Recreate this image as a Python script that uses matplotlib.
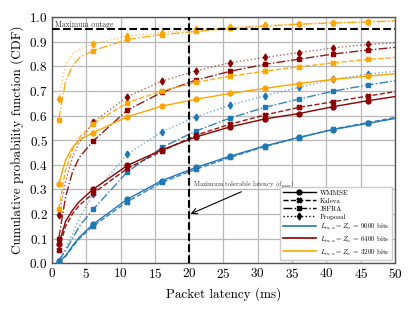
import numpy as np
import matplotlib
matplotlib.use('Agg')
import matplotlib.pyplot as plt
from matplotlib.lines import Line2D

plt.rcParams['font.family'] = 'serif'
plt.rcParams['font.serif'] = ['cmr10']
plt.rcParams['mathtext.fontset'] = 'cm'
plt.rcParams['axes.formatter.use_mathtext'] = True

# packet latency (ms) where the curves are sampled
lat = [1, 2, 3, 4, 6, 11, 16, 21, 26, 31, 36, 41, 46, 50]
mark_idx = [0, 4, 5, 6, 7, 8, 9, 10, 11, 12]

# L = Z = 9600 bits (blue)
wmmse_9600 = [0.005, 0.03, 0.07, 0.105, 0.158, 0.26, 0.335, 0.389, 0.435, 0.476, 0.511, 0.543, 0.568, 0.588]
kaleva_9600 = [0.004, 0.027, 0.065, 0.10, 0.15, 0.25, 0.328, 0.382, 0.43, 0.474, 0.51, 0.545, 0.571, 0.592]
jsfra_9600 = [0.01, 0.05, 0.10, 0.15, 0.218, 0.371, 0.47, 0.537, 0.59, 0.633, 0.667, 0.699, 0.724, 0.741]
prop_9600 = [0.01, 0.06, 0.12, 0.18, 0.28, 0.443, 0.534, 0.595, 0.642, 0.68, 0.714, 0.747, 0.768, 0.78]

# L = Z = 6400 bits (dark red)
wmmse_6400 = [0.076, 0.17, 0.215, 0.25, 0.30, 0.397, 0.46, 0.513, 0.554, 0.586, 0.608, 0.636, 0.66, 0.677]
kaleva_6400 = [0.053, 0.15, 0.20, 0.235, 0.283, 0.385, 0.455, 0.52, 0.565, 0.602, 0.633, 0.656, 0.679, 0.697]
jsfra_6400 = [0.10, 0.27, 0.37, 0.43, 0.496, 0.622, 0.694, 0.744, 0.78, 0.808, 0.829, 0.85, 0.866, 0.877]
prop_6400 = [0.195, 0.33, 0.43, 0.49, 0.573, 0.676, 0.74, 0.782, 0.815, 0.836, 0.856, 0.875, 0.889, 0.895]

# L = Z = 3200 bits (orange)
wmmse_3200 = [0.32, 0.42, 0.47, 0.50, 0.53, 0.595, 0.638, 0.666, 0.69, 0.71, 0.73, 0.747, 0.76, 0.77]
kaleva_3200 = [0.22, 0.38, 0.46, 0.51, 0.566, 0.652, 0.70, 0.735, 0.76, 0.78, 0.798, 0.814, 0.828, 0.836]
jsfra_3200 = [0.583, 0.74, 0.80, 0.835, 0.864, 0.909, 0.929, 0.942, 0.954, 0.963, 0.971, 0.976, 0.98, 0.984]
prop_3200 = [0.667, 0.81, 0.85, 0.87, 0.89, 0.923, 0.936, 0.95, 0.958, 0.966, 0.973, 0.978, 0.982, 0.986]

colors = ['#1f77b4', '#8b0000', '#ffa500']
sizes = ['9600', '6400', '3200']
series = [
    [wmmse_9600, kaleva_9600, jsfra_9600, prop_9600],
    [wmmse_6400, kaleva_6400, jsfra_6400, prop_6400],
    [wmmse_3200, kaleva_3200, jsfra_3200, prop_3200],
]
methods = ['WMMSE', 'Kaleva', 'JSFRA', 'Proposal']
styles = ['-', '--', '-.', ':']
markers = ['o', 'X', 's', 'd']
alphas = [1.0, 0.9, 0.9, 0.6]

fig = plt.figure(figsize=(4.15, 3.11), dpi=100)
ax = fig.add_axes([0.125, 0.154, 0.827, 0.791])

for c, group in zip(colors, series):
    for k, y in enumerate(group):
        ax.plot(lat, y, linestyle=styles[k], color=c, lw=1.0, alpha=alphas[k], zorder=3)
        ax.plot(np.array(lat)[mark_idx], np.array(y)[mark_idx], linestyle='none',
                marker=markers[k], color=c, ms=3.5, zorder=4)

ax.axhline(0.95, color='k', ls='--', lw=1.5, zorder=5)
ax.axvline(20, color='k', ls='--', lw=1.5, zorder=5)
ax.text(0.4, 0.967, 'Maximum outage', fontsize=5.5, color='#333333', va='center')
ax.text(20.6, 0.318, r'Maximum tolerable latency ($d_{\max}$)', fontsize=4.8,
        color='#333333', va='center', zorder=6)
ax.annotate('', xy=(20.2, 0.20), xytext=(27.6, 0.29),
            arrowprops=dict(arrowstyle='->', color='k', lw=0.8, shrinkA=0, shrinkB=0))

ax.set_xlim(0, 50)
ax.set_ylim(0, 1)
ax.set_xticks(np.arange(0, 51, 5))
ax.set_yticks(np.arange(0, 1.01, 0.1))
ax.grid(True, color='#b8b8b8', lw=0.9)
ax.set_axisbelow(True)
for s in ax.spines.values():
    s.set_color('#555555')
    s.set_linewidth(1.0)
ax.tick_params(labelsize=9.5, length=0, pad=3)
ax.set_xlabel('Packet latency (ms)', fontsize=9.5)
ax.set_ylabel('Cumulative probability function (CDF)', fontsize=9.5)

handles = [Line2D([], [], color='k', ls=styles[k], marker=markers[k], ms=3.5, lw=1.0)
           for k in range(4)]
handles += [Line2D([], [], color=c, lw=1.2) for c in colors]
labels = methods + [r'$L_{m,u} = Z_u$ = %s bits' % s for s in sizes]
ax.legend(handles, labels, loc='lower right', fontsize=5, framealpha=1,
          edgecolor='#cccccc', handlelength=4.8, handletextpad=0.6, borderpad=0.4,
          labelspacing=0.3, fancybox=False, borderaxespad=0.4)

fig.savefig('out.png', dpi=100)
